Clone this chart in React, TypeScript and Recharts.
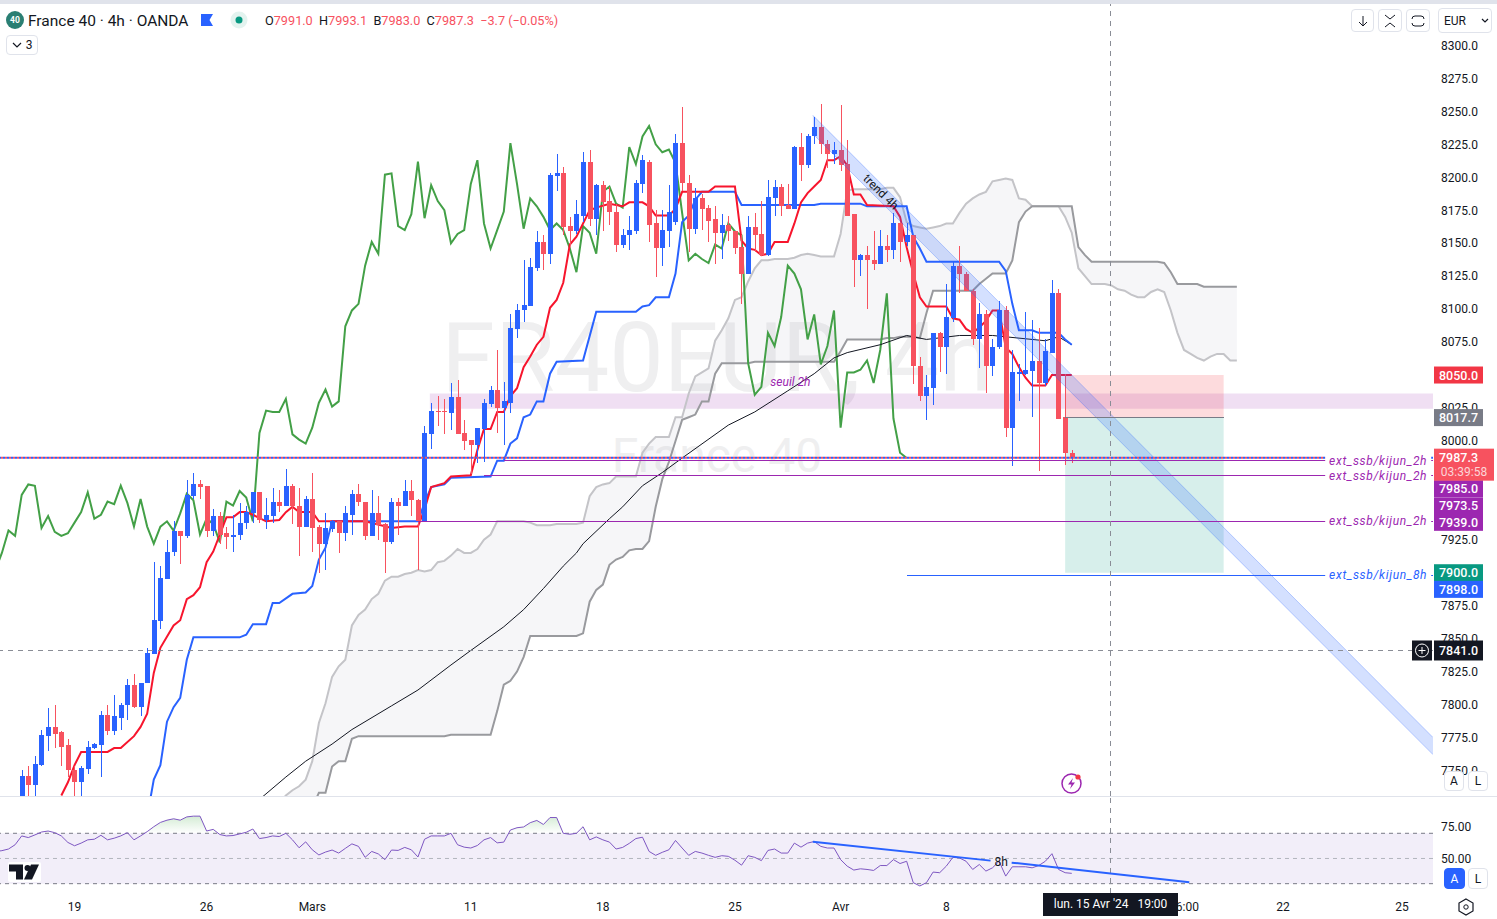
import React from "react";
import { ComposedChart, Bar, Line, Area, XAxis, YAxis, ReferenceLine, ReferenceArea, ReferenceDot } from "recharts";

const FONT = "Roboto, sans-serif";
const BLUE = "#2962ff";
const RED = "#f7525f";
const PURPLE = "#9c27b0";
const X_MIN = -3.286;
const X_MAX = 213.7;
const PRICE_DOMAIN = [7730.6, 8331.5];

// open, high, low, close for each 4h bar, oldest first
const ohlc: number[][] = [
  [7722,7750,7717,7746],[7746,7753,7722,7739],[7739,7761,7727,7755],[7754,7781,7753,7777],[7776,7797,7765,7783],
  [7783,7800,7767,7778],[7779,7780,7753,7768],[7769,7774,7745,7750],[7750,7753,7727,7741],[7741,7753,7727,7752],
  [7751,7772,7747,7768],[7767,7771,7766,7770],[7769,7795,7745,7792],[7792,7800,7777,7780],[7780,7807,7777,7791],
  [7790,7801,7781,7800],[7800,7819,7788,7815],[7815,7823,7797,7798],[7798,7816,7791,7816],[7816,7843,7816,7839],
  [7838,7908,7838,7864],[7863,7905,7857,7896],[7895,7925,7895,7916],[7916,7939,7913,7932],[7932,7932,7907,7928],
  [7928,7970,7926,7959],[7958,7976,7956,7967],[7967,7970,7956,7965],[7966,7966,7927,7932],[7932,7948,7928,7943],
  [7943,7946,7922,7929],[7930,7935,7918,7927],[7927,7944,7916,7929],[7929,7953,7925,7938],[7938,7951,7933,7946],
  [7945,7961,7938,7961],[7961,7961,7938,7940],[7940,7957,7933,7944],[7943,7964,7938,7954],[7954,7963,7946,7951],
  [7951,7979,7951,7966],[7966,7967,7937,7951],[7951,7964,7913,7935],[7935,7958,7935,7956],[7956,7976,7916,7934],
  [7935,7936,7900,7922],[7922,7945,7902,7934],[7933,7940,7931,7939],[7939,7939,7915,7930],[7930,7951,7924,7945],
  [7944,7963,7929,7960],[7960,7967,7951,7954],[7954,7954,7925,7928],[7928,7963,7928,7945],[7945,7958,7925,7936],
  [7937,7938,7900,7923],[7923,7957,7922,7954],[7954,7957,7929,7951],[7951,7970,7951,7962],[7962,7970,7943,7955],
  [7955,7956,7902,7939],[7939,8011,7939,8006],[8005,8029,7994,8023],[8023,8034,8011,8022],[8023,8032,8005,8022],
  [8021,8044,8008,8033],[8033,8046,8005,8005],[8006,8016,7993,8000],[8001,8001,7975,7997],[7997,8010,7983,8010],
  [8009,8032,7984,8029],[8028,8042,8026,8039],[8039,8069,8006,8025],[8025,8045,7997,8030],[8029,8096,8021,8086],
  [8085,8104,8078,8099],[8099,8137,8090,8103],[8102,8139,8102,8132],[8131,8159,8129,8151],[8151,8156,8130,8142],
  [8142,8203,8134,8202],[8201,8218,8190,8203],[8203,8208,8156,8162],[8163,8170,8149,8159],[8159,8183,8157,8172],
  [8171,8219,8166,8212],[8212,8221,8163,8168],[8168,8195,8156,8194],[8194,8197,8159,8181],[8182,8193,8164,8174],
  [8174,8180,8143,8149],[8149,8161,8146,8156],[8156,8171,8145,8160],[8159,8198,8157,8196],[8195,8217,8188,8213],
  [8212,8213,8151,8164],[8165,8175,8124,8146],[8146,8175,8133,8160],[8159,8194,8147,8174],[8166,8233,8164,8226],
  [8226,8253,8190,8196],[8196,8202,8143,8161],[8161,8192,8157,8184],[8184,8187,8160,8176],[8177,8179,8151,8167],
  [8168,8178,8134,8158],[8158,8172,8138,8164],[8164,8171,8152,8159],[8159,8159,8142,8146],[8147,8156,8104,8127],
  [8127,8171,8127,8162],[8162,8173,8143,8156],[8157,8182,8140,8141],[8141,8198,8140,8185],[8184,8198,8171,8193],
  [8193,8195,8171,8178],[8179,8195,8176,8176],[8176,8224,8176,8223],[8223,8234,8197,8209],[8209,8233,8207,8231],
  [8231,8246,8225,8238],[8238,8256,8218,8225],[8225,8228,8207,8218],[8218,8227,8210,8221],[8221,8255,8205,8209],
  [8210,8228,8171,8171],[8172,8172,8117,8137],[8137,8142,8125,8141],[8141,8148,8100,8137],[8137,8159,8130,8134],
  [8134,8160,8134,8148],[8148,8156,8136,8145],[8145,8173,8138,8165],[8165,8165,8136,8151],[8151,8165,8148,8156],
  [8156,8156,8043,8057],[8057,8064,8030,8034],[8034,8050,8016,8041],[8040,8082,8027,8082],[8082,8083,8052,8071],
  [8071,8119,8051,8094],[8093,8136,8090,8133],[8133,8148,8112,8127],[8127,8128,8114,8114],[8114,8115,8073,8077],
  [8077,8105,8055,8096],[8096,8099,8036,8057],[8057,8077,8049,8071],[8071,8106,8070,8099],[8099,8102,8003,8010],
  [8010,8069,7981,8052],[8051,8058,8030,8052],[8051,8098,8050,8054],[8053,8092,8018,8061],[8061,8086,7977,8044],
  [8044,8077,8042,8068],[8067,8122,8067,8112],[8112,8115,8017,8017],[8018,8051,7982,7991],[7991,7993.1,7983,7987.3],
];

// conversion line, [bar, price]
const tenkan: number[][] = [
  [6,7731],[7,7741],[8,7754],[9,7764],[13,7764],[14,7767],[15,7767],[17,7776],[18,7783],[19,7793],[20,7824],[21,7843],
  [23,7860],[24,7864],[25,7880],[26,7883],[27,7889],[28,7908],[29,7916],[30,7929],[31,7942],[32,7942],[33,7946],[34,7946],
  [35,7944],[37,7939],[39,7940],[40,7946],[41,7950],[42,7946],[44,7946],[45,7939],[52,7939],[56,7934],[58,7935],[60,7935],
  [61,7948],[62,7965],[64,7968],[65,7973],[68,7974],[69,7993],[70,8009],[71,8009],[72,8022],[73,8022],[74,8034],[75,8040],
  [76,8056],[77,8064],[78,8073],[79,8079],[80,8101],[81,8107],[82,8120],[83,8149],[84,8155],[85,8165],[86,8175],[87,8177],
  [89,8180],[91,8178],[92,8181],[94,8181],[95,8178],[96,8171],[98,8171],[99,8176],[100,8189],[104,8189],[105,8193],[108,8193],
  [109,8152],[110,8146],[111,8145],[112,8141],[113,8142],[114,8151],[116,8151],[117,8165],[118,8181],[119,8188],[120,8193],
  [121,8198],[122,8213],[123,8213],[124,8216],[125,8209],[126,8187],[127,8187],[128,8179],[132,8178],[133,8170],[134,8147],
  [135,8127],[136,8109],[137,8102],[140,8102],[141,8093],[142,8092],[143,8085],[144,8082],[145,8086],[146,8091],[147,8099],
  [148,8099],[149,8071],[150,8066],[151,8056],[152,8048],[153,8042],[155,8042],[156,8050],[159,8050],
];

// base line, [bar, price]
const kijun: number[][] = [
  [19,7715],[20,7743],[21,7754],[22,7787],[23,7798],[24,7805],[25,7834],[26,7851],[33,7851],[34,7853],[35,7861],[37,7861],
  [38,7877],[39,7877],[41,7884],[43,7885],[44,7890],[45,7910],[46,7919],[47,7939],[60,7939],[61,7953],[62,7965],[64,7967],
  [65,7972],[71,7973],[72,7985],[73,7985],[74,7998],[75,8002],[76,8018],[77,8020],[78,8030],[79,8030],[80,8051],[81,8060],
  [85,8061],[87,8098],[93,8098],[94,8102],[95,8103],[96,8109],[98,8109],[99,8127],[100,8166],[101,8171],[102,8183],[103,8189],
  [108,8189],[109,8179],[120,8179],[121,8180],[127,8180],[128,8178],[134,8178],[135,8155],[136,8146],[137,8136],[146,8136],
  [148,8136],[149,8129],[150,8104],[151,8084],[153,8084],[154,8082],[157,8082],[158,8077],[159,8073],
];

// moving average, [bar, price]
const ema: number[][] = [
  [36,7728],[40,7745],[43,7757],[47,7770],[50,7781],[56,7799],[60,7811],[65,7830],[68,7841],[73,7859],[76,7872],[79,7888],
  [82,7905],[84,7915],[85,7922],[89,7941],[91,7950],[94,7966],[97,7976],[100,7987],[107,8012],[111,8022],[116,8038],[120,8051],
  [123,8063],[125,8067],[130,8073],[134,8080],[137,8077],[142,8080],[147,8080],[155,8076],[157,8079],[159,8073],
];

// lagging line, one value per bar from bar -4
const chikouStart = -4;
const chikou = [
  7902,7915,7932,7928,7959,7967,7966,7934,7943,7931,7928,7930,7938,7946,7961,7941,7944,7954,7952,7966,7953,7935,7956,7935,
  7922,7935,7939,7932,7945,7960,7955,7929,7941,7937,7923,7954,7951,7962,7957,7939,8006,8023,8022,8022,8032,8005,8001,7998,
  8010,8029,8039,8026,8030,8087,8099,8104,8133,8151,8142,8202,8203,8163,8160,8172,8212,8169,8194,8182,8175,8150,8157,8160,
  8195,8213,8165,8146,8160,8174,8226,8195,8161,8184,8178,8170,8160,8165,8160,8146,8128,8163,8158,8142,8189,8193,8180,8177,
  8223,8210,8231,8239,8225,8219,8221,8211,8173,8137,8142,8138,8135,8149,8146,8165,8159,8156,8059,8035,8041,8082,8072,8094,
  8133,8127,8115,8077,8096,8058,8072,8099,8010,8052,8052,8054,8061,8044,8069,8112,8017,7991,7987,
];

// cloud edges, one value per bar from bar 39
const cloudStart = 39;
const spanA = [
  7725,7731,7735,7738,7743,7757,7786,7801,7821,7829,7834,7860,7868,7872,7880,7884,7894,7897,7897,7899,7900,7902,7901,7902,
  7908,7909,7913,7918,7915,7915,7918,7925,7929,7939,7939,7939,7939,7939,7938,7936,7936,7936,7937,7937,7937,7937,7938,7958,
  7965,7967,7968,7973,7973,7973,7973,7991,7998,8003,8003,8003,8018,8018,8036,8049,8052,8055,8076,8084,8093,8107,8109,8121,
  8131,8137,8137,8138,8138,8138,8139,8141,8142,8141,8140,8140,8140,8157,8190,8191,8191,8191,8191,8191,8192,8192,8185,8166,
  8163,8162,8161,8162,8163,8165,8165,8173,8180,8184,8187,8189,8197,8198,8199,8198,8184,8183,8178,8178,8178,8178,8178,8170,
  8158,8131,8125,8119,8119,8119,8118,8115,8114,8111,8109,8109,8113,8115,8113,8099,8082,8069,8066,8063,8061,8064,8066,8066,
  8061,8061,
];
const spanB = [
  7700,7700,7700,7705,7712,7722,7733,7733,7753,7757,7757,7774,7776,
  7776,7776,7776,7776,7776,7776,7776,7776,7776,7776,7776,7776,7776,
  7777,7777,7777,7777,7777,7777,7777,7795,7815,7818,7825,7836,
  7852,7852,7852,7852,7852,7852,7852,7852,
  7854,7878,7887,7891,7906,7910,7912,7917,7918,7918,7924,7950,7971,7984,8000,8016,8018,8020,8030,8030,8051,8059,
  8059,8059,8059,8059,8060,8060,8060,8060,8060,8060,8060,8060,8060,8060,8060,8060,
  8060,8068,8077,8077,8077,8077,8077,8077,8078,8078,8079,8079,8079,8078,8097,
  8114,8114,8114,8114,8114,8114,8114,8119,8123,8127,8127,8127,8137,8166,8174,
  8178,8178,8178,8178,8178,8178,8178,8147,8141,
  8136,8136,8136,8136,8136,8136,8136,8136,8136,8136,8136,8135,8128,
  8119,8119,8119,8119,8117,8117,8117,8117,8117,8117,
];

// trend channel: bar, lower price, upper price
const channel: number[][] = [[119.8,8233,8247],[213.7,7762,7775]];

const priceTicks = [8300,8275,8250,8225,8200,8175,8150,8125,8100,8075,8050,8025,8000,7975,7950,7925,7900,7875,7850,7825,7800,7775,7750];
const lastPrice = 7987.3;
const crossPrice = 7841;
const crossBar = 164.87;

// rsi, one value per bar from bar -4
const rsiStart = -4;
const rsi = [
  55.5,56.2,57.5,60.9,67.9,66.6,68.7,71,71.8,70.5,67.9,62.7,60.1,62.2,64.8,65.3,68.4,64.8,66.1,67.9,70.5,64.8,67.9,71.3,75.2,
  78.6,80.4,81.5,80.4,83,83.6,83.6,71.8,73.1,69,67.9,68.2,69.5,70.8,73.4,65.8,66.6,67.9,67.4,70,64.8,58.5,63.2,56.9,52.8,55.1,
  56.7,54.3,58,61.6,59.6,50.9,55.6,53.6,49.1,56.7,56.4,58.8,56.9,51.2,65.3,67.9,67.9,67.9,70,60.9,59,58.3,60.3,64.8,66.6,62.4,
  63,72.6,74.4,75,78.4,80.2,77,82.5,82.5,70,69.2,70,75.2,64.8,67.1,64.8,63,57.5,58.8,62,65.8,66.9,55.6,52.5,54.9,56.9,64.3,58.3,
  52.5,55.6,54.3,52.5,50.9,52.2,51.7,48.6,44.7,52.2,50.9,48.3,56.4,57.5,54.3,54.3,62.2,59,62.2,63.5,59.6,58.3,58.3,49.1,43.9,
  40.8,41.8,41.3,40.5,44.4,44.4,49.1,46,47.8,30.8,28.2,30.8,39.2,38.7,43.9,50.9,50.4,47.8,41.3,45.2,40,42.6,47.8,36,43.4,43.4,
  43.4,42.6,44.4,47.8,53.8,41.3,38.7,38.2,
];
const rsiTrendA: number[][] = [[119.8,63.3],[146.7,48.3]];
const rsiTrendB: number[][] = [[149.9,46.7],[176.8,31.1]];

const xTicks = [8,28,44,68,88,108,124,140,176,191,209];
const xTickLabels = ["19","26","Mars","11","18","25","Avr","8","16:00","22","25"];

const candleRows = ohlc.map(([open, high, low, close], i) => ({ i, open, high, low, close }));
const cloudRows = spanA.map((a, k) => ({ i: cloudStart + k, a, b: spanB[k], range: [spanB[k], a] }));
const channelRows = channel.map(([i, lo, hi]) => ({ i, range: [lo, hi] }));
const toRows = (pts: number[][]) => pts.map(([i, v]) => ({ i, v }));
const chikouRows = chikou.map((v, k) => ({ i: chikouStart + k, v }));
const rsiRows = rsi.map((v, k) => ({ i: rsiStart + k, v, ob: [70, Math.max(v, 70)] }));

const Candle = (props: any) => {
  const { x, y, width, height, payload } = props;
  const { open, high, low, close } = payload;
  const perUnit = height / (high - low);
  const cx = Math.round(x + width / 2);
  const color = close >= open ? BLUE : RED;
  const top = y + (high - Math.max(open, close)) * perUnit;
  const h = Math.max(1, Math.abs(open - close) * perUnit);
  return (
    <g shapeRendering="crispEdges">
      <rect x={cx - 0.5} y={y} width={1} height={height} fill={color} />
      <rect x={cx - 2.5} y={top} width={5} height={h} fill={color} />
    </g>
  );
};

const Tag = (props: any) => {
  const { cx, cy, value, color, shift = 0 } = props;
  return (
    <g>
      <rect x={cx + 1} y={cy + shift - 8.5} width={49} height={17} fill={color} />
      <text x={cx + 25.5} y={cy + shift + 4.5} textAnchor="middle" fontSize={12.5} fontFamily={FONT} fontWeight={500} fill="#fff">{value}</text>
    </g>
  );
};

const LastTag = (props: any) => {
  const { cx, cy } = props;
  return (
    <g>
      <rect x={cx + 1} y={cy - 9} width={60} height={32} fill={RED} />
      <text x={cx + 25.5} y={cy + 4.5} textAnchor="middle" fontSize={12.5} fontFamily={FONT} fontWeight={500} fill="#fff">7987.3</text>
      <text x={cx + 31} y={cy + 18.5} textAnchor="middle" fontSize={12} fontFamily={FONT} fill="#fcd5d8">03:39:58</text>
    </g>
  );
};

const CrossTag = (props: any) => {
  const { cx, cy } = props;
  return (
    <g>
      <rect x={cx - 21} y={cy - 10} width={20} height={20} fill="#131722" />
      <circle cx={cx - 11} cy={cy} r={6.5} fill="none" stroke="#fff" strokeWidth={1} />
      <path d={`M${cx - 14.5} ${cy}H${cx - 7.5}M${cx - 11} ${cy - 3.5}V${cy + 3.5}`} stroke="#fff" strokeWidth={1} />
      <rect x={cx + 1} y={cy - 10} width={49} height={20} fill="#131722" />
      <text x={cx + 25.5} y={cy + 4.5} textAnchor="middle" fontSize={12.5} fontFamily={FONT} fontWeight={500} fill="#fff">7841.0</text>
    </g>
  );
};

const NoteText = (props: any) => {
  const { cx, cy, text, color, rotate = 0, white = false, italic = true } = props;
  return (
    <g transform={`rotate(${rotate} ${cx} ${cy})`}>
      {white && <rect x={cx - 53} y={cy - 7} width={106} height={14} fill="#fff" />}
      <text x={cx} y={cy + 4} textAnchor="middle" fontSize={12} fontFamily={FONT} fontStyle={italic ? "italic" : "normal"} fill={color} letterSpacing={white ? 0.7 : 0}>{text}</text>
    </g>
  );
};

const XTick = (props: any) => {
  const { x, y, payload } = props;
  const label = xTickLabels[xTicks.indexOf(payload.value)];
  return <text x={x} y={y + 10} textAnchor="middle" fontSize={12} fontFamily={FONT} fill="#131722">{label}</text>;
};

const boxStyle: React.CSSProperties = { position: "absolute", border: "1px solid #e0e3eb", borderRadius: 4, boxSizing: "border-box", background: "#fff", display: "flex", alignItems: "center", justifyContent: "center", color: "#131722", fontSize: 13 };

const Header = () => (
  <>
    <div style={{ position: "absolute", left: 0, top: 0, width: 1497, height: 4, background: "#e0e3eb" }} />
    <div style={{ position: "absolute", left: 6, top: 11, width: 18, height: 18, borderRadius: 9, background: "#2a7f73", color: "#fff", fontSize: 8.5, fontWeight: 700, textAlign: "center", lineHeight: "18px" }}>40</div>
    <div style={{ position: "absolute", left: 28, top: 12, fontSize: 15.5, color: "#131722", lineHeight: "18px", whiteSpace: "nowrap" }}>France 40 · 4h · OANDA</div>
    <svg style={{ position: "absolute", left: 200, top: 13 }} width={14} height={14}><path d="M1 1H13L9.5 7L13 13H1Z" fill={BLUE} /></svg>
    <svg style={{ position: "absolute", left: 230, top: 11 }} width={18} height={18}><circle cx={9} cy={9} r={8.5} fill="#e3f3ef" /><circle cx={9} cy={9} r={3.5} fill="#089981" /></svg>
    <div style={{ position: "absolute", left: 265, top: 13, fontSize: 12.7, lineHeight: "16px", whiteSpace: "nowrap", color: RED }}>
      <span style={{ color: "#131722" }}>O</span>7991.0&nbsp;&nbsp;<span style={{ color: "#131722" }}>H</span>7993.1&nbsp;&nbsp;<span style={{ color: "#131722" }}>B</span>7983.0&nbsp;&nbsp;<span style={{ color: "#131722" }}>C</span>7987.3&nbsp;&nbsp;−3.7 (−0.05%)
    </div>
    <div style={{ ...boxStyle, left: 6, top: 35, width: 32, height: 20, fontSize: 12 }}>
      <svg width={10} height={8} style={{ marginRight: 4 }}><path d="M1 2L5 6L9 2" fill="none" stroke="#131722" strokeWidth={1.2} /></svg>3
    </div>
    <div style={{ ...boxStyle, left: 1351, top: 9, width: 23, height: 23 }}>
      <svg width={12} height={14}><path d="M6 2V12M2 8L6 12L10 8" fill="none" stroke="#131722" /></svg>
    </div>
    <div style={{ ...boxStyle, left: 1378, top: 9, width: 24, height: 23 }}>
      <svg width={14} height={16}><path d="M2 2L7 6L12 2M2 14L7 10L12 14" fill="none" stroke="#131722" /></svg>
    </div>
    <div style={{ ...boxStyle, left: 1406, top: 9, width: 24, height: 23 }}>
      <svg width={14} height={12}><path d="M1 4Q1 1 4 1H10Q13 1 13 4M1 8Q1 11 4 11H10Q13 11 13 8" fill="none" stroke="#131722" /></svg>
    </div>
    <div style={{ ...boxStyle, left: 1438, top: 8, width: 54, height: 25, justifyContent: "flex-start", paddingLeft: 5, fontSize: 12 }}>
      EUR<svg width={8} height={6} style={{ marginLeft: 15 }}><path d="M1 1L4 4L7 1" fill="none" stroke="#131722" strokeWidth={1.2} /></svg>
    </div>
    <div style={{ ...boxStyle, left: 1444, top: 771, width: 20, height: 20, fontSize: 12 }}>A</div>
    <div style={{ ...boxStyle, left: 1468, top: 771, width: 20, height: 20, fontSize: 12 }}>L</div>
    <div style={{ ...boxStyle, left: 1444, top: 868, width: 21, height: 21, fontSize: 12, background: BLUE, borderColor: BLUE, color: "#fff" }}>A</div>
    <div style={{ ...boxStyle, left: 1468, top: 868, width: 20, height: 21, fontSize: 12 }}>L</div>
    <svg style={{ position: "absolute", left: 1456, top: 897 }} width={20} height={20}><path d="M10 2L17 6V14L10 18L3 14V6Z" fill="none" stroke="#131722" strokeWidth={1.2} /><circle cx={10} cy={10} r={2.2} fill="none" stroke="#131722" /></svg>
    <svg style={{ position: "absolute", left: 1060, top: 772 }} width={24} height={24}>
      <circle cx={11.5} cy={11.5} r={9.5} fill="#fff" stroke={PURPLE} strokeWidth={1.5} />
      <path d="M13 6L8 12.5H11.5L10 17L15 10.5H11.5Z" fill={PURPLE} />
      <circle cx={18} cy={5} r={2.6} fill="#f23645" />
    </svg>
    <svg style={{ position: "absolute", left: 8, top: 862 }} width={33} height={20}>
      <rect x={0} y={0} width={33} height={20} rx={2} fill="#fff" />
      <path d="M1 2.5H15V17.5H8V9.5H1Z" fill="#131722" />
      <circle cx={19.5} cy={6} r={3} fill="#131722" />
      <path d="M23 2.5H31L24 17.5H16Z" fill="#131722" />
    </svg>
    <div style={{ position: "absolute", left: 1043, top: 893, width: 135, height: 23, background: "#131722", color: "#fff", fontSize: 12, lineHeight: "23px", textAlign: "center", whiteSpace: "pre" }}>lun. 15 Avr '24   19:00</div>
  </>
);

const Watermark = () => (
  <>
    <div style={{ position: "absolute", left: 300, width: 834, top: 302, textAlign: "center", fontSize: 97, lineHeight: "112px", color: "#efeff0", whiteSpace: "nowrap" }}>FR40EUR, 4h</div>
    <div style={{ position: "absolute", left: 300, width: 834, top: 428, textAlign: "center", fontSize: 48, lineHeight: "56px", color: "#efeff0", whiteSpace: "nowrap" }}>France 40</div>
  </>
);

const xAxisProps = { dataKey: "i", type: "number" as const, domain: [X_MIN, X_MAX], allowDataOverflow: true };

const MainChart = () => (
  <div style={{ position: "absolute", left: 0, top: 0 }}>
    <ComposedChart width={1497} height={796} data={candleRows} margin={{ top: 4, right: 0, bottom: 0, left: 0 }}>
      <XAxis {...xAxisProps} hide />
      <YAxis
        orientation="right"
        width={64}
        type="number"
        domain={PRICE_DOMAIN}
        allowDataOverflow
        ticks={priceTicks}
        axisLine={false}
        tickLine={false}
        tickMargin={1}
        interval={0}
        tickFormatter={(v: number) => v.toFixed(1)}
        tick={{ fontSize: 12, fontFamily: FONT, fill: "#131722", textAnchor: "start", dx: 1 }}
      />
      <ReferenceArea x1={61.8} x2={X_MAX} y1={8024.4} y2={8036} fill={PURPLE} fillOpacity={0.15} stroke="none" />
      <ReferenceArea x1={158} x2={182} y1={8017.7} y2={8050} fill="#f23645" fillOpacity={0.18} stroke="none" />
      <ReferenceArea x1={158} x2={182} y1={7900} y2={8017.7} fill="#089981" fillOpacity={0.16} stroke="none" />
      <ReferenceLine segment={[{ x: 158, y: 8017.7 }, { x: 182, y: 8017.7 }]} stroke="#787b86" shapeRendering="crispEdges" />
      <Area data={cloudRows} dataKey="range" type="linear" fill="#7a7aa0" fillOpacity={0.07} stroke="none" isAnimationActive={false} />
      <Line data={cloudRows} dataKey="a" type="linear" stroke="#c4c4c8" strokeWidth={2} dot={false} isAnimationActive={false} zIndex={200} />
      <Line data={cloudRows} dataKey="b" type="linear" stroke="#999a9e" strokeWidth={2} dot={false} isAnimationActive={false} zIndex={200} />
      <Line data={chikouRows} dataKey="v" type="linear" stroke="#43a047" strokeWidth={2} dot={false} isAnimationActive={false} zIndex={200} />
      <Line data={toRows(ema)} dataKey="v" type="linear" stroke="#131722" strokeWidth={1} dot={false} isAnimationActive={false} zIndex={200} />
      <Line data={toRows(kijun)} dataKey="v" type="linear" stroke={BLUE} strokeWidth={2} dot={false} isAnimationActive={false} zIndex={200} />
      <Line data={toRows(tenkan)} dataKey="v" type="linear" stroke="#f7152d" strokeWidth={2} dot={false} isAnimationActive={false} zIndex={200} />
      <Bar dataKey={(d: any) => [d.low, d.high]} barSize={5} shape={<Candle />} isAnimationActive={false} />
      <Area data={channelRows} dataKey="range" type="linear" fill={BLUE} fillOpacity={0.2} stroke={BLUE} strokeOpacity={0.3} strokeWidth={1} isAnimationActive={false} zIndex={350} />
      <ReferenceLine segment={[{ x: 73, y: 7985 }, { x: X_MAX, y: 7985 }]} stroke={PURPLE} shapeRendering="crispEdges" />
      <ReferenceLine segment={[{ x: 70, y: 7973.5 }, { x: X_MAX, y: 7973.5 }]} stroke={PURPLE} shapeRendering="crispEdges" />
      <ReferenceLine segment={[{ x: 60, y: 7939 }, { x: X_MAX, y: 7939 }]} stroke={PURPLE} shapeRendering="crispEdges" />
      <ReferenceLine segment={[{ x: 134, y: 7898 }, { x: X_MAX, y: 7898 }]} stroke={BLUE} shapeRendering="crispEdges" />
      <ReferenceLine y={lastPrice} stroke={BLUE} strokeWidth={2} strokeDasharray="2 2" />
      <ReferenceLine y={lastPrice} stroke={RED} strokeWidth={2} strokeDasharray="2 2" strokeDashoffset={2} />
      <ReferenceLine y={crossPrice} stroke="#8a8d96" strokeDasharray="5 5" shapeRendering="crispEdges" />
      <ReferenceLine x={crossBar} stroke="#8a8d96" strokeDasharray="5 5" shapeRendering="crispEdges" />
      <ReferenceDot x={205.4} y={7985} r={0} ifOverflow="visible" shape={<NoteText text="ext_ssb/kijun_2h" color={PURPLE} white />} />
      <ReferenceDot x={205.4} y={7973.5} r={0} ifOverflow="visible" shape={<NoteText text="ext_ssb/kijun_2h" color={PURPLE} white />} />
      <ReferenceDot x={205.4} y={7939} r={0} ifOverflow="visible" shape={<NoteText text="ext_ssb/kijun_2h" color={PURPLE} white />} />
      <ReferenceDot x={205.4} y={7898} r={0} ifOverflow="visible" shape={<NoteText text="ext_ssb/kijun_8h" color={BLUE} white />} />
      <ReferenceDot x={116.4} y={8044.7} r={0} ifOverflow="visible" shape={<NoteText text="seuil 2h" color={PURPLE} />} />
      <ReferenceDot x={130.1} y={8188.8} r={0} ifOverflow="visible" shape={<NoteText text="trend 4h" color="#131722" rotate={45} italic={false} />} />
    </ComposedChart>
  </div>
);

// price tags sit in their own chart so they cover the axis labels
const TagChart = () => (
  <div style={{ position: "absolute", left: 0, top: 0 }}>
    <ComposedChart width={1497} height={796} data={candleRows} margin={{ top: 4, right: 64, bottom: 0, left: 0 }}>
      <XAxis {...xAxisProps} hide />
      <YAxis type="number" domain={PRICE_DOMAIN} allowDataOverflow hide />
      <ReferenceDot x={X_MAX} y={8050} r={0} ifOverflow="visible" shape={<Tag value="8050.0" color="#f23645" />} />
      <ReferenceDot x={X_MAX} y={8017.7} r={0} ifOverflow="visible" shape={<Tag value="8017.7" color="#787b86" />} />
      <ReferenceDot x={X_MAX} y={7985} r={0} ifOverflow="visible" shape={<Tag value="7985.0" color={PURPLE} shift={28} />} />
      <ReferenceDot x={X_MAX} y={7973.5} r={0} ifOverflow="visible" shape={<Tag value="7973.5" color={PURPLE} shift={30} />} />
      <ReferenceDot x={X_MAX} y={7939} r={0} ifOverflow="visible" shape={<Tag value="7939.0" color={PURPLE} shift={1} />} />
      <ReferenceDot x={X_MAX} y={lastPrice} r={0} ifOverflow="visible" shape={<LastTag />} />
      <ReferenceDot x={X_MAX} y={7900} r={0} ifOverflow="visible" shape={<Tag value="7900.0" color="#089981" />} />
      <ReferenceDot x={X_MAX} y={7898} r={0} ifOverflow="visible" shape={<Tag value="7898.0" color={BLUE} shift={14} />} />
      <ReferenceDot x={X_MAX} y={crossPrice} r={0} ifOverflow="visible" shape={<CrossTag />} />
    </ComposedChart>
  </div>
);

const RsiChart = () => (
  <div style={{ position: "absolute", left: 0, top: 797 }}>
    <ComposedChart width={1497} height={122} data={rsiRows} margin={{ top: 0, right: 0, bottom: 0, left: 0 }}>
      <defs>
        <linearGradient id="overbought" x1="0" y1="0" x2="0" y2="1">
          <stop offset="0%" stopColor="#4caf50" stopOpacity={0.4} />
          <stop offset="100%" stopColor="#4caf50" stopOpacity={0} />
        </linearGradient>
      </defs>
      <XAxis {...xAxisProps} height={26} ticks={xTicks} interval={0} axisLine={false} tickLine={false} tick={<XTick />} />
      <YAxis
        orientation="right"
        width={64}
        type="number"
        domain={[22.6, 98.8]}
        allowDataOverflow
        ticks={[75, 50]}
        interval={0}
        axisLine={false}
        tickLine={false}
        tickMargin={1}
        tickFormatter={(v: number) => v.toFixed(2)}
        tick={{ fontSize: 12, fontFamily: FONT, fill: "#131722", textAnchor: "start", dx: 1 }}
      />
      <ReferenceArea y1={30} y2={70} x1={X_MIN} x2={X_MAX} fill="#7e57c2" fillOpacity={0.1} stroke="none" />
      <ReferenceLine y={70} stroke="#787b86" strokeDasharray="4 4" />
      <ReferenceLine y={50} stroke="#b2b5be" strokeDasharray="4 4" />
      <ReferenceLine y={30} stroke="#787b86" strokeDasharray="4 4" />
      <ReferenceLine x={crossBar} stroke="#8a8d96" strokeDasharray="5 5" shapeRendering="crispEdges" />
      <Area dataKey="ob" type="linear" fill="url(#overbought)" stroke="none" isAnimationActive={false} />
      <Line dataKey="v" type="linear" stroke="#7e57c2" strokeWidth={1} dot={false} isAnimationActive={false} />
      <Line data={toRows(rsiTrendA)} dataKey="v" type="linear" stroke={BLUE} strokeWidth={2} dot={false} isAnimationActive={false} />
      <Line data={toRows(rsiTrendB)} dataKey="v" type="linear" stroke={BLUE} strokeWidth={2} dot={false} isAnimationActive={false} />
      <ReferenceDot x={148.3} y={47.5} r={0} ifOverflow="visible" shape={<NoteText text="8h" color="#131722" italic={false} />} />
    </ComposedChart>
  </div>
);

export default function App() {
  return (
    <div style={{ position: "absolute", left: 0, top: 0, width: 1497, height: 919, overflow: "hidden", background: "#fff", fontFamily: FONT }}>
      <Watermark />
      <div style={{ position: "absolute", left: 0, top: 796, width: 1497, height: 1, background: "#e0e3eb" }} />
      <MainChart />
      <TagChart />
      <RsiChart />
      <Header />
    </div>
  );
}
